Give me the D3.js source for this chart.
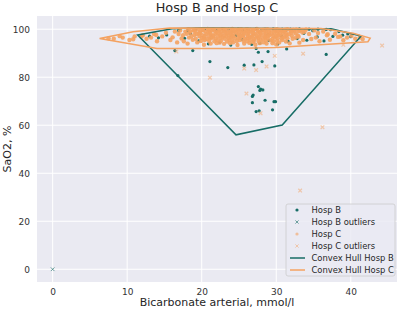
<!DOCTYPE html>
<html>
<head>
<meta charset="utf-8">
<script src="https://cdn.jsdelivr.net/npm/d3@7"></script>
<style>
  body { margin: 0; background: #fff; }
  svg { display: block; font-family: "DejaVu Sans", sans-serif; }
</style>
</head>
<body>
<div id="chart"></div>
<script>
// Hosp B points inside the hull: [bicarbonate, SaO2]
var hospB = [
  [19.2,100],[20.4,100.1],[21.5,100],[22.8,100.2],[23.6,100],[24.9,100.1],[26.2,100],[27.3,100.2],
  [28.5,100],[29.6,100.1],[30.8,100],[31.9,100],[33.1,100.1],[34.4,100],[35.6,100],[36.7,99.9],[37.3,99.8],
  [16.9,99.5],[18.1,99.4],[22.0,99.5],[25.5,99.6],[28.0,99.4],[31.3,99.5],[34.9,99.4],[38.4,99.0],
  [15.3,97.6],[17.7,96.2],[19.6,95.1],[20.9,93.9],[22.4,94.6],[23.9,93.4],[25.4,95.8],[26.7,93.7],
  [27.8,94.2],[29.0,95.3],[30.2,93.8],[31.6,94.9],[32.8,96.1],[34.1,95.4],[35.5,96.8],[36.4,95.1],
  [37.6,97.0],[38.9,97.5],[40.0,96.9],[14.2,96.4],[13.0,97.1],[21.3,96.7],[24.6,97.4],[28.9,97.9],
  [33.7,98.3],[30.7,97.2],[18.5,98.1],[12.0,97.3],[39.6,98.0],
  [16.4,91.1],[18.8,91.1],[16.8,80.7],[21.1,86.5],[23.5,84.0],[25.7,85.0],[27.0,85.1],[28.1,86.5],
  [29.8,84.7],[28.9,90.7],[27.6,90.4],[27.3,92.0],[31.4,91.8],[36.7,89.5],
  [27.6,76.1],[27.9,75.0],[28.2,74.7],[27.8,74.5],[26.9,72.6],[26.8,72.0],[26.8,69.4],[28.5,70.4],
  [29.7,69.8],[29.9,69.8],[27.3,65.7],[27.7,66.0],[29.5,66.4]
];
var hospBOutliers = [[0,0]];

// Hosp C points inside the hull
var hospC = [
  [18.2,100],[19.5,100],[20.8,100.1],[21.6,100],[22.9,100],[24.1,100.1],[25.3,100],[26.0,100],[27.4,100.1],
  [28.8,100],[30.1,100],[31.5,100],[32.7,99.9],[34.0,99.9],
  [19.0,99.8],[20.1,99.8],[21.0,99.7],[22.4,99.8],[23.1,99.8],[24.5,99.7],[25.0,99.8],[26.5,99.8],
  [27.0,99.7],[28.3,99.8],[29.8,99.8],[30.5,99.7],[31.2,99.8],[32.3,99.8],[33.6,99.7],
  [17.1,99.5],[18.9,99.5],[20.2,99.5],[21.4,99.6],[22.3,99.5],[23.5,99.5],[24.8,99.4],[25.7,99.5],
  [26.9,99.6],[28.1,99.5],[29.3,99.5],[30.6,99.4],[31.9,99.5],[33.2,99.4],[35.1,99.5],
  [18.5,99.2],[19.8,99.2],[21.8,99.3],[23.0,99.2],[24.0,99.2],[25.3,99.3],[26.2,99.2],[27.6,99.2],
  [28.6,99.3],[29.9,99.2],[30.9,99.2],[32.0,99.3],[33.0,99.2],
  [16.4,99],[17.8,99],[19.1,99.1],[20.5,99],[21.1,98.9],[22.6,99],[23.8,99],[24.4,99.1],[25.9,99],
  [26.6,99],[27.8,98.9],[29.0,99],[30.2,99.1],[31.1,99],[32.4,99],[33.8,98.9],[36.3,99],
  [15.2,98.5],[18.4,98.5],[19.8,98.4],[20.9,98.5],[22.0,98.6],[23.2,98.5],[24.6,98.5],[25.4,98.4],
  [26.3,98.5],[27.5,98.6],[28.4,98.5],[29.7,98.5],[30.9,98.4],[32.0,98.5],[33.5,98.6],[35.6,98.4],
  [19.6,98.2],[21.2,98.2],[22.2,98.3],[23.4,98.2],[24.2,98.2],[25.7,98.2],[26.9,98.3],[27.9,98.2],
  [29.0,98.2],[30.1,98.2],[31.3,98.3],[32.6,98.2],
  [13.6,98],[16.9,98],[18.0,98.1],[19.3,98],[20.6,97.9],[21.8,98],[22.7,98],[23.9,98.1],[25.0,98],
  [26.2,97.9],[27.1,98],[28.6,98],[29.4,98.1],[30.5,98],[31.7,97.9],[34.4,98],[37.9,98.1],
  [12.1,97.5],[17.5,97.5],[19.0,97.6],[20.1,97.5],[21.3,97.4],[22.5,97.5],[23.6,97.5],[24.9,97.6],
  [25.6,97.5],[26.8,97.4],[28.0,97.5],[29.1,97.5],[30.3,97.6],[31.4,97.5],[32.9,97.4],[36.8,97.5],
  [20.4,97.2],[21.6,97.2],[23.0,97.3],[24.0,97.2],[25.2,97.2],[26.2,97.2],[27.4,97.3],[28.5,97.2],
  [29.6,97.2],[30.7,97.2],[32.1,97.3],
  [11.0,97],[14.7,97],[18.6,97.1],[19.7,97],[21.0,96.9],[22.2,97],[23.3,97],[24.3,97.1],[25.5,97],
  [26.7,96.9],[27.7,97],[28.9,97],[30.0,97.1],[31.2,97],[33.0,96.9],[38.6,97],
  [9.4,96.5],[13.2,96.5],[16.1,96.6],[18.3,96.5],[20.0,96.4],[21.5,96.5],[22.8,96.5],[24.0,96.6],
  [25.2,96.5],[26.4,96.4],[27.3,96.5],[28.5,96.5],[29.8,96.6],[31.0,96.5],[32.6,96.4],[35.3,96.5],[39.5,96.5],
  [20.3,96.2],[21.2,96.2],[22.5,96.3],[23.6,96.2],[24.9,96.2],[26.1,96.2],[27.6,96.3],[28.8,96.2],
  [30.2,96.2],[31.5,96.2],
  [8.2,96],[12.6,96],[17.3,96.1],[19.2,96],[20.7,95.9],[21.9,96],[23.1,96],[24.5,96.1],[25.8,96],
  [27.0,95.9],[28.2,96],[29.5,96],[30.7,96.1],[32.2,96],[34.7,95.9],
  [10.3,95.5],[15.8,95.5],[18.8,95.6],[20.4,95.5],[22.1,95.4],[23.7,95.5],[25.1,95.5],[26.5,95.6],
  [27.9,95.5],[29.2,95.4],[30.8,95.5],[33.6,95.5],[37.2,95.6],
  [21.0,95.2],[22.6,95.2],[24.1,95.3],[25.6,95.2],[27.0,95.2],[28.6,95.3],[30.1,95.2],
  [14.0,95],[17.6,95],[19.9,95.1],[21.7,95],[23.4,94.9],[24.7,95],[26.1,95],[27.6,95.1],[29.6,95],[31.3,94.9],[35.8,95],
  [16.7,94.5],[19.4,94.5],[22.4,94.4],[24.2,94.5],[26.9,94.6],[28.3,94.5],[30.4,94.5],[33.1,94.4],
  [22.0,94.2],[23.8,94.2],[26.4,94.3],[27.8,94.2],[29.5,94.2],
  [18.1,94],[21.2,94],[23.0,93.9],[25.7,94],[28.7,94],[31.8,94.1],
  [20.3,93.5],[24.8,93.4],[27.2,93.5],[30.0,93.6],
  [7.5,96.2],[9.0,97.1],[10.8,95.8],[11.9,96.9],[13.9,97.6],[38.3,96.8],[40.1,97.3],[41.2,96.5],
  [39.0,95.4],[36.9,97.9],[41.6,95.9],[40.6,96.0]
];
var hospCOutliers = [
  [16.6,90.7],[21.1,79.8],[25.7,83.6],[27.3,83.0],[28.7,84.5],[29.8,88.9],[33.6,89.8],
  [26.0,73.2],[27.9,65.0],[36.2,59.2],[33.2,32.8],[44.2,93.2],[39.0,93.5]
];

// Convex hull vertices
var hullB = [[11.4,97.6],[16.0,100.2],[20.0,100.6],[37.5,100.1],[41.4,97.2],[30.8,60.1],[24.6,56.0]];
var hullC = [[6.3,96.1],[10.8,98.9],[15.7,100.5],[36.0,100.3],[40.3,98.3],[42.6,96.3],[42.3,94.8],[30.0,92.4],[24.0,92.0],[14.0,92.0]];

var xTicks = [0, 10, 20, 30, 40];
var yTicks = [0, 20, 40, 60, 80, 100];

var teal = "#176d66", orange = "#f4a261";

var W = 400, H = 310;
var margin = {top: 16, right: 3, bottom: 28, left: 37},
    width = W - margin.left - margin.right,
    height = H - margin.top - margin.bottom;

var x = d3.scaleLinear().domain([-2.1, 46.2]).range([0, width]);
var y = d3.scaleLinear().domain([-5.3, 105.5]).range([height, 0]);

var svg = d3.select("#chart").append("svg")
    .attr("width", W).attr("height", H);

var g = svg.append("g")
    .attr("transform", "translate(" + margin.left + "," + margin.top + ")");

// Background
g.append("rect").attr("width", width).attr("height", height).attr("fill", "#eaeaf2");

// Grid
g.selectAll(".xgrid").data(xTicks).enter().append("line")
    .attr("x1", function(d) { return x(d); }).attr("x2", function(d) { return x(d); })
    .attr("y1", 0).attr("y2", height)
    .attr("stroke", "#fff").attr("stroke-width", 1);
g.selectAll(".ygrid").data(yTicks).enter().append("line")
    .attr("y1", function(d) { return y(d); }).attr("y2", function(d) { return y(d); })
    .attr("x1", 0).attr("x2", width)
    .attr("stroke", "#fff").attr("stroke-width", 1);

// Axes (labels only)
var xAxis = g.append("g")
    .attr("transform", "translate(0," + height + ")")
    .call(d3.axisBottom(x).tickValues(xTicks).tickSize(0).tickPadding(7));
var yAxis = g.append("g")
    .call(d3.axisLeft(y).tickValues(yTicks).tickSize(0).tickPadding(7));
[xAxis, yAxis].forEach(function(a) {
    a.select(".domain").remove();
    a.selectAll("text").attr("font-size", "9px").attr("fill", "#333")
        .attr("font-family", "DejaVu Sans, sans-serif");
});

// x marker helper
function cross(sel, size) {
    sel.append("path")
        .attr("d", "M" + (-size) + "," + (-size) + "L" + size + "," + size +
                   "M" + (-size) + "," + size + "L" + size + "," + (-size));
}

// Hosp B points
g.append("g").selectAll("circle").data(hospB).enter().append("circle")
    .attr("cx", function(d) { return x(d[0]); })
    .attr("cy", function(d) { return y(d[1]); })
    .attr("r", 1.6).attr("fill", teal);

// Hosp B outliers
g.append("g").selectAll("g").data(hospBOutliers).enter().append("g")
    .attr("transform", function(d) { return "translate(" + x(d[0]) + "," + y(d[1]) + ")"; })
    .call(cross, 1.8)
    .selectAll("path").attr("stroke", teal).attr("stroke-opacity", 0.6).attr("stroke-width", 1);

// Hosp C points
g.append("g").selectAll("circle").data(hospC).enter().append("circle")
    .attr("cx", function(d) { return x(d[0]); })
    .attr("cy", function(d) { return y(d[1]); })
    .attr("r", 2.2).attr("fill", orange).attr("fill-opacity", 0.9);

// Hosp C outliers
g.append("g").selectAll("g").data(hospCOutliers).enter().append("g")
    .attr("transform", function(d) { return "translate(" + x(d[0]) + "," + y(d[1]) + ")"; })
    .call(cross, 1.8)
    .selectAll("path").attr("stroke", orange).attr("stroke-opacity", 0.5).attr("stroke-width", 1.2);

// Hulls
var hullLine = d3.line()
    .x(function(d) { return x(d[0]); })
    .y(function(d) { return y(d[1]); })
    .curve(d3.curveLinearClosed);

g.append("path").datum(hullB).attr("d", hullLine)
    .attr("fill", "none").attr("stroke", teal).attr("stroke-width", 1.5);
g.append("path").datum(hullC).attr("d", hullLine)
    .attr("fill", "none").attr("stroke", orange).attr("stroke-width", 1.5);

// Title and axis labels
svg.append("text")
    .attr("x", margin.left + width / 2).attr("y", 12)
    .attr("text-anchor", "middle").attr("font-size", "12.8px").attr("fill", "#262626")
    .text("Hosp B and Hosp C");
svg.append("text")
    .attr("x", margin.left + width / 2).attr("y", 306)
    .attr("text-anchor", "middle").attr("font-size", "11px").attr("fill", "#262626")
    .text("Bicarbonate arterial, mmol/l");
svg.append("text")
    .attr("transform", "translate(11," + (margin.top + height / 2) + ") rotate(-90)")
    .attr("text-anchor", "middle").attr("font-size", "11px").attr("fill", "#262626")
    .text("SaO2, %");

// Legend
var legendItems = [
    {label: "Hosp B", type: "dot", color: teal, op: 1},
    {label: "Hosp B outliers", type: "x", color: teal, op: 0.6},
    {label: "Hosp C", type: "dot", color: orange, op: 0.6},
    {label: "Hosp C outliers", type: "x", color: orange, op: 0.5},
    {label: "Convex Hull Hosp B", type: "line", color: teal, op: 1},
    {label: "Convex Hull Hosp C", type: "line", color: orange, op: 1}
];
var legend = svg.append("g").attr("transform", "translate(286,204)");
legend.append("rect")
    .attr("width", 109).attr("height", 72).attr("rx", 2)
    .attr("fill", "#eaeaf2").attr("fill-opacity", 0.8)
    .attr("stroke", "#cccccc").attr("stroke-width", 0.8);
var rows = legend.selectAll(".row").data(legendItems).enter().append("g")
    .attr("transform", function(d, i) { return "translate(0," + (6 + i * 12) + ")"; });
rows.each(function(d) {
    var r = d3.select(this);
    if (d.type === "dot") {
        r.append("circle").attr("cx", 11).attr("cy", 0).attr("r", 1.6)
            .attr("fill", d.color).attr("fill-opacity", d.op);
    } else if (d.type === "x") {
        r.append("g").attr("transform", "translate(11,0)").call(cross, 1.6)
            .selectAll("path").attr("stroke", d.color).attr("stroke-opacity", d.op).attr("stroke-width", 1);
    } else {
        r.append("line").attr("x1", 4).attr("x2", 19).attr("y1", 0).attr("y2", 0)
            .attr("stroke", d.color).attr("stroke-width", 1.5);
    }
    r.append("text").attr("x", 25.5).attr("y", 3)
        .attr("font-size", "8.4px").attr("fill", "#262626").text(d.label);
});
</script>
</body>
</html>
